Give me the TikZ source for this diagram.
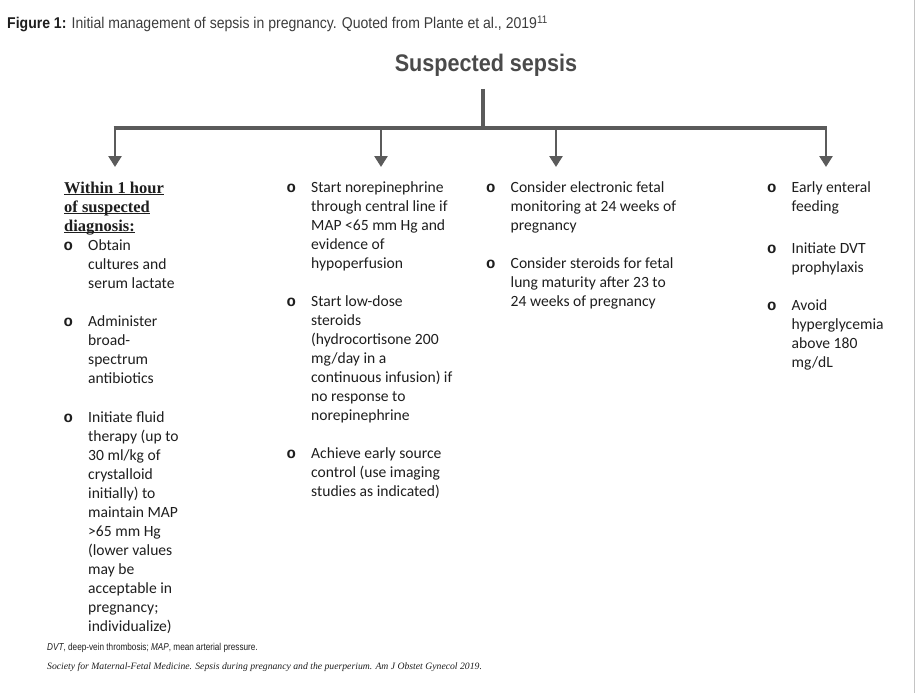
\documentclass[tikz,border=0pt]{standalone}
\usepackage{fontspec}
\setmainfont{Carlito}
\newfontfamily\headfont{Liberation Serif}
\newfontfamily\bulletfont{Liberation Mono}
\newfontfamily\capfont{Liberation Sans}[FakeStretch=0.9]
\newfontfamily\titlefont{Liberation Sans}[FakeStretch=0.9]
\newfontfamily\narrowfont{Liberation Sans}[FakeStretch=0.82]
\usetikzlibrary{arrows.meta}

\definecolor{flowgray}{HTML}{5B5B5B}
\definecolor{titlegray}{HTML}{4A4A4A}
\definecolor{capgray}{HTML}{3C3C3C}
\definecolor{framegray}{HTML}{C4C4C4}
\definecolor{textgray}{HTML}{1E1E1E}

\newcommand{\sepsisitem}[1]{\makebox[24.5pt][l]{\bulletfont\bfseries o}\parbox[t]{200pt}{\strut #1}}

\begin{document}
\begin{tikzpicture}[x=1pt, y=-1pt,
	every node/.style={inner sep=0pt, anchor=base west, text=textgray},
	item/.style={font={\fontsize{15.6}{19}\selectfont}},
	head/.style={font={\headfont\bfseries\fontsize{16.5}{19}\selectfont}},
	flow/.style={draw=flowgray, line width=2.6pt, -{Triangle[width=13pt,length=11pt]}},
	bar/.style={draw=flowgray, line width=4pt}]
				\useasboundingbox (0,0) rectangle (916,693);
				\draw[framegray, line width=1pt] (914.5,0) -- (914.5,693);
				
				\node[font={\capfont\fontsize{15.6}{18}\selectfont}] (caption) at (7,28.5){\textbf{Figure 1:} \textcolor{capgray}{Initial management of sepsis in pregnancy. Quoted from Plante et al., 2019\textsuperscript{11}}};
				\node[anchor=base, text=titlegray, font={\titlefont\bfseries\fontsize{24}{28}\selectfont}] (sepsis) at (486,71.5){Suspected sepsis};
				
				\coordinate (stem) at (483,89);
				\coordinate (hub) at (483,128);
				\coordinate (bar1) at (115,128);
				\coordinate (bar2) at (381,128);
				\coordinate (bar3) at (556,128);
				\coordinate (bar4) at (826,128);
				\coordinate (tip1) at (115,167);
				\coordinate (tip2) at (381,167);
				\coordinate (tip3) at (556,167);
				\coordinate (tip4) at (826,167);
				
				\draw[bar] ([xshift=-1.3pt]bar1) -- ([xshift=1.3pt]bar4);
				\draw[draw=flowgray, line width=3.4pt] (stem) -- (hub);
				\draw[flow] (bar1) -- (tip1);
				\draw[flow] (bar2) -- (tip2);
				\draw[flow] (bar3) -- (tip3);
				\draw[flow] (bar4) -- (tip4);
				
				% first column
				\node[head] (hour) at (64,193){\parbox[t]{150pt}{\underbar{Within 1 hour}\\\underbar{of suspected}\\\underbar{diagnosis:}}};
				\node[item] (cultures) at (63.5,250){\sepsisitem{Obtain\\cultures and\\serum lactate}};
				\node[item] (antibio) at (63.5,326){\sepsisitem{Administer\\broad-\\spectrum\\antibiotics}};
				\node[item] (fluid) at (63.5,422){\sepsisitem{Initiate fluid\\therapy (up to\\30 ml/kg of\\crystalloid\\initially) to\\maintain MAP\\>65 mm Hg\\(lower values\\may be\\acceptable in\\pregnancy;\\individualize)}};
				
				% second column
				\node[item] (norepi) at (286.5,192){\sepsisitem{Start norepinephrine\\through central line if\\MAP <65 mm Hg and\\evidence of\\hypoperfusion}};
				\node[item] (lowdose) at (286.5,306){\sepsisitem{Start low-dose\\steroids\\(hydrocortisone 200\\mg/day in a\\continuous infusion) if\\no response to\\norepinephrine}};
				\node[item] (control) at (286.5,458){\sepsisitem{Achieve early source\\control (use imaging\\studies as indicated)}};
				
				% third column
				\node[item] (monitor) at (486,192){\sepsisitem{Consider electronic fetal\\monitoring at 24 weeks of\\pregnancy}};
				\node[item] (lung) at (486,268){\sepsisitem{Consider steroids for fetal\\lung maturity after 23 to\\24 weeks of pregnancy}};
				
				% fourth column
				\node[item] (feeding) at (767,192){\sepsisitem{Early enteral\\feeding}};
				\node[item] (dvt) at (767,253){\sepsisitem{Initiate DVT\\prophylaxis}};
				\node[item] (glyc) at (767,310){\sepsisitem{Avoid\\hyperglycemia\\above 180\\mg/dL}};
				
				\node[font={\narrowfont\fontsize{10}{12}\selectfont}] (abbrev) at (47,650){\textit{DVT}, deep-vein thrombosis; \textit{MAP}, mean arterial pressure.};
				\node[font={\headfont\itshape\fontsize{9.7}{12}\selectfont}] (source) at (47,669){Society for Maternal-Fetal Medicine. Sepsis during pregnancy and the puerperium. Am J Obstet Gynecol 2019.};
\end{tikzpicture}
\end{document}
